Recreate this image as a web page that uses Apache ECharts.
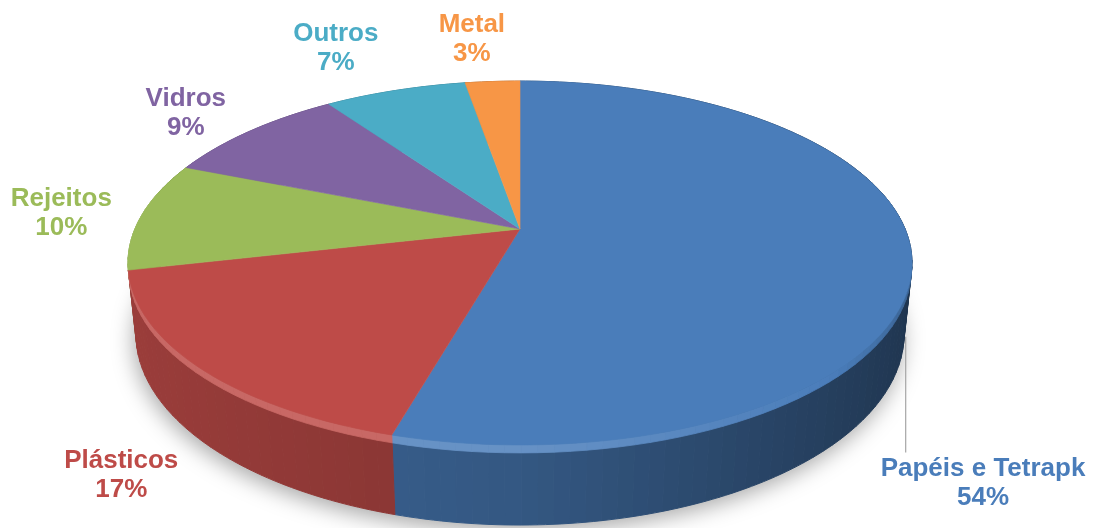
<!DOCTYPE html>
<html><head><meta charset="utf-8">
<script src="https://cdn.jsdelivr.net/npm/echarts@6/dist/echarts.min.js"></script>
<style>html,body{margin:0;padding:0;background:#fff}#c{width:1093px;height:528px}</style>
</head><body><div id="c"></div>
<script>
// ---- data (estimated shares; labels show rounded %) ----
const categories = ['Papéis e Tetrapk', 'Plásticos', 'Rejeitos', 'Vidros', 'Outros', 'Metal'];
const values = [54.4, 17.0, 9.7, 9.2, 7.0, 2.7];

// ---- styling / layout ----
const colors = ['#4a7dba', '#be4b48', '#9bbb59', '#8064a2', '#4bacc6', '#f79646'];
const labelNudge = [
  { dx: -50, dy: 222, leader: true },
  { dx: 37, dy: 57 },
  { dx: 31, dy: 2 },
  { dx: 6, dy: 8 },
  { dx: -29, dy: -8 },
  { dx: -14, dy: -7 }
];
const CX = 520, CY = 229, F = 1833, D = 4.76, SN = 0.456, CS = 0.890, H = 0.207, BEV = 0.02;
function proj(r, th, y) {
  const X = r * Math.sin(th), Z = r * Math.cos(th);
  const d = D + Z * CS - y * SN;
  return [CX + F * X / d, CY - F * (Z * SN + y * CS) / d];
}
function rgb(hex) { const n = parseInt(hex.slice(1), 16); return [(n >> 16) & 255, (n >> 8) & 255, n & 255]; }
function scale(hex, f) { const c = rgb(hex); return 'rgb(' + c.map(v => Math.max(0, Math.min(255, Math.round(v * f)))).join(',') + ')'; }
function mix(hex, t, w) { const c = rgb(hex); return 'rgb(' + c.map(v => Math.round(v + (t - v) * w)).join(',') + ')'; }

const total = values.reduce((a, b) => a + b, 0);
const TAU = Math.PI * 2;

function renderItem(params, api) {
  const i = params.dataIndex;
  let before = 0; for (let k = 0; k < i; k++) before += values[k];
  const v = api.value(0);
  const a0 = before / total * TAU, a1 = (before + v) / total * TAU;
  const col = colors[i];
  const children = [];

  if (i === 0) {
    const pts = [];
    for (let d = 0; d <= 360; d += 2) pts.push(proj(1, d * Math.PI / 180, -H));
    children.push({ type: 'polygon', shape: { points: pts }, z2: 0,
      style: { fill: '#ffffff', shadowBlur: 22, shadowColor: 'rgba(0,0,0,0.35)', shadowOffsetY: 6, shadowOffsetX: -2 } });
  }

  // side walls with a bevel band on top
  const step = Math.PI / 90;
  const n = Math.max(2, Math.ceil((a1 - a0) / step));
  for (let p = 0; p < n; p++) {
    const a = a0 + (a1 - a0) * p / n, b = a0 + (a1 - a0) * (p + 1) / n;
    const m = (a + b) / 2;
    const s = Math.sin(m), cm = Math.cos(m);
    const f = s > 0 ? 0.70 - 0.28 * s : 0.70 - 0.12 * s;
    const zz = Math.round(100 - 50 * cm);
    const pts = [proj(1, a, 0), proj(1, m, 0), proj(1, b, 0), proj(1, b, -H), proj(1, m, -H), proj(1, a, -H)];
    const c = scale(col, f);
    children.push({ type: 'polygon', shape: { points: pts }, z2: zz,
      style: { fill: c, stroke: c, lineWidth: 1 } });
    if (cm < 0.2) {
      const t = Math.max(-1, Math.min(1, (0.7 - s) / 0.7));
      const bc = t >= 0 ? mix(col, 255, 0.16 * t) : scale(col, 1 - (1 - f) * (-t));
      const bp = [proj(1, a, 0), proj(1, b, 0), proj(1, b, -BEV), proj(1, a, -BEV)];
      children.push({ type: 'polygon', shape: { points: bp }, z2: 300 + zz,
        style: { fill: bc, stroke: bc, lineWidth: 0.8 } });
    }
  }

  // top face
  const top = [proj(0, 0, 0)];
  const nt = Math.max(2, Math.ceil((a1 - a0) / (Math.PI / 180)));
  for (let p = 0; p <= nt; p++) top.push(proj(1, a0 + (a1 - a0) * p / nt, 0));
  children.push({ type: 'polygon', shape: { points: top }, z2: 500,
    style: { fill: col, stroke: col, lineWidth: 0.6 } });

  // label
  const mid = (a0 + a1) / 2;
  const nud = labelNudge[i];
  const base = proj(1.3, mid, 0);
  const lx = base[0] + nud.dx, ly = base[1] + nud.dy;
  const pct = Math.round(v / total * 100) + '%';
  children.push({ type: 'text', z2: 700, x: lx, y: ly,
    style: { text: categories[i] + '\n' + pct, fill: col,
      font: 'bold 26px "Liberation Sans", Arial, sans-serif', align: 'center', verticalAlign: 'middle', lineHeight: 29 } });
  if (nud.leader) {
    const an = proj(1, mid, -H);
    children.push({ type: 'line', z2: 700, shape: { x1: an[0] + 2, y1: an[1] + 12, x2: an[0] + 2, y2: ly - 31 },
      style: { stroke: '#a6a6a6', lineWidth: 1.2 } });
  }
  return { type: 'group', children: children };
}

const chart = echarts.init(document.getElementById('c'), null, { renderer: 'canvas' });
chart.setOption({
  animation: false,
  backgroundColor: '#ffffff',
  series: [{
    type: 'custom',
    coordinateSystem: 'none',
    renderItem: renderItem,
    data: values.map((v, i) => ({ value: [v], name: categories[i] }))
  }]
});
</script></body></html>
